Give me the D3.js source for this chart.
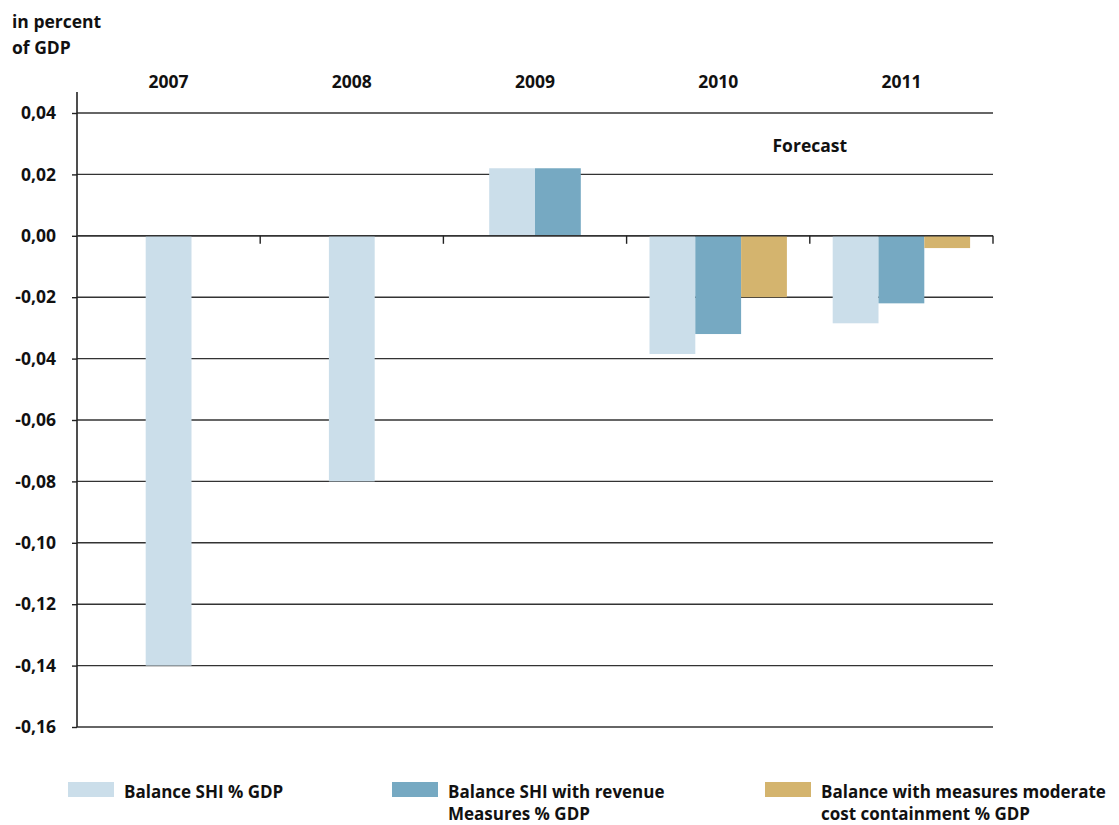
<!DOCTYPE html>
<html>
<head>
<meta charset="utf-8">
<script src="https://cdn.jsdelivr.net/npm/d3@7"></script>
<style>
  body { margin: 0; background: #fff; }
  text { font-family: "Open Sans", sans-serif; font-weight: 700; fill: #111; }
</style>
</head>
<body>
<div id="chart"></div>
<script>
// Data
var years = ['2007', '2008', '2009', '2010', '2011'];
var balanceSHI = [-0.14, -0.08, 0.022, -0.0385, -0.0285];
var balanceRevenue = [null, null, 0.022, -0.032, -0.022];
var balanceCost = [null, null, null, -0.02, -0.004];
var yTicks = [0.04, 0.02, 0, -0.02, -0.04, -0.06, -0.08, -0.10, -0.12, -0.14, -0.16];
var seriesNames = ['Balance SHI % GDP', 'Balance SHI with revenue|Measures % GDP', 'Balance with measures moderate|cost containment % GDP'];
var colors = ['#cbdeea', '#76a9c2', '#d4b46e'];

var W = 1119, H = 825;
var margin = { left: 77, right: 126, top: 113, bottom: 98 };

var svg = d3.select('#chart').append('svg')
    .attr('width', W).attr('height', H);

var xScale = d3.scaleBand()
    .domain(years)
    .range([margin.left, W - margin.right])
    .padding(0);

var yScale = d3.scaleLinear()
    .domain([-0.16, 0.04])
    .range([H - margin.bottom, margin.top]);

var fmt = function (d) { return d3.format('.2f')(d).replace('.', ',').replace('−', '-'); };

// gridlines
svg.append('g')
   .selectAll('line')
   .data(yTicks)
   .enter().append('line')
   .attr('x1', margin.left).attr('x2', W - margin.right)
   .attr('y1', function (d) { return yScale(d); })
   .attr('y2', function (d) { return yScale(d); })
   .attr('stroke', '#333').attr('stroke-width', 1.4);

// y axis
var yAxis = d3.axisLeft(yScale).tickValues(yTicks).tickFormat(fmt).tickSize(5).tickPadding(16);
var gy = svg.append('g')
    .attr('transform', 'translate(' + margin.left + ',0)')
    .call(yAxis);
gy.select('.domain').remove();
gy.selectAll('.tick line').attr('stroke', '#222').attr('stroke-width', 1.4);
gy.selectAll('.tick text').style('font-size', '17.5px').style('font-family', '"Open Sans", sans-serif').style('font-weight', 700).attr('fill', '#111');

svg.append('line')
   .attr('x1', margin.left).attr('x2', margin.left)
   .attr('y1', 92).attr('y2', yScale(-0.16))
   .attr('stroke', '#222').attr('stroke-width', 1.6);

// bars
var series = [balanceSHI, balanceRevenue, balanceCost];
var barW = xScale.bandwidth() * 0.25;
years.forEach(function (yr, i) {
    var present = [];
    series.forEach(function (s, k) { if (s[i] !== null) present.push(k); });
    var groupW = barW * present.length;
    var x0 = xScale(yr) + xScale.bandwidth() / 2 - groupW / 2;
    present.forEach(function (k, j) {
        var v = series[k][i];
        svg.append('rect')
           .attr('x', x0 + j * barW)
           .attr('width', barW)
           .attr('y', yScale(Math.max(0, v)))
           .attr('height', Math.abs(yScale(v) - yScale(0)))
           .attr('fill', colors[k]);
    });
});

// zero line with category ticks
svg.append('line')
   .attr('x1', margin.left).attr('x2', W - margin.right)
   .attr('y1', yScale(0)).attr('y2', yScale(0))
   .attr('stroke', '#333').attr('stroke-width', 1.4);
svg.append('g').selectAll('line')
   .data(years)
   .enter().append('line')
   .attr('x1', function (d) { return xScale(d) + xScale.bandwidth(); })
   .attr('x2', function (d) { return xScale(d) + xScale.bandwidth(); })
   .attr('y1', yScale(0)).attr('y2', yScale(0) + 8)
   .attr('stroke', '#222').attr('stroke-width', 1.4);

// year labels on top
svg.append('g').selectAll('text')
   .data(years)
   .enter().append('text')
   .attr('x', function (d) { return xScale(d) + xScale.bandwidth() / 2; })
   .attr('y', 88)
   .attr('text-anchor', 'middle')
   .style('font-size', '17.5px')
   .text(function (d) { return d; });

// unit label
svg.append('text').attr('x', 12).attr('y', 28).style('font-size', '17.5px').text('in percent');
svg.append('text').attr('x', 12).attr('y', 54).style('font-size', '17.5px').text('of GDP');

// forecast label
svg.append('text')
   .attr('x', xScale('2011'))
   .attr('y', 152)
   .attr('text-anchor', 'middle')
   .style('font-size', '17.5px')
   .text('Forecast');

// legend
var legendX = [68, 392, 765];
seriesNames.forEach(function (name, k) {
    var g = svg.append('g').attr('transform', 'translate(' + legendX[k] + ',782)');
    g.append('rect').attr('width', 46).attr('height', 15).attr('fill', colors[k]);
    name.split('|').forEach(function (line, j) {
        g.append('text')
         .attr('x', 56).attr('y', 16 + j * 22)
         .style('font-size', '17px')
         .text(line);
    });
});
</script>
</body>
</html>
